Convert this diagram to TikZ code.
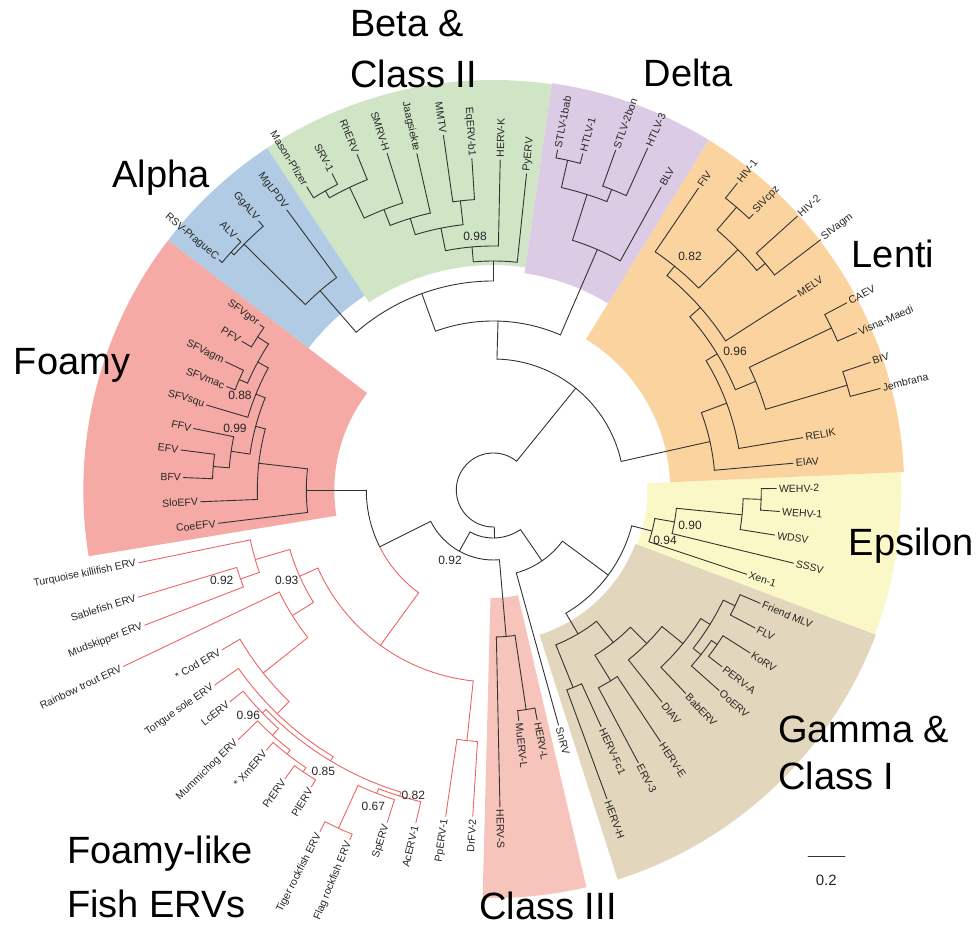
\documentclass[tikz,border=0pt]{standalone}
\usepackage{fontspec}
\setmainfont{Liberation Sans}
\usepackage{tikz}
\definecolor{colfoamy}{RGB}{245,170,166}
\definecolor{colthree}{RGB}{246,196,186}
\definecolor{colalpha}{RGB}{176,203,227}
\definecolor{colbeta}{RGB}{207,229,197}
\definecolor{coldelta}{RGB}{219,203,228}
\definecolor{collenti}{RGB}{251,211,158}
\definecolor{coleps}{RGB}{251,248,200}
\definecolor{colgamma}{RGB}{226,214,188}
\definecolor{fishred}{RGB}{238,100,100}
% annular sector: colour, from, to, inner, outer
\newcommand{\cladesector}[5]{\fill[#1] (#2:#4) arc[start angle=#2,end angle=#3,radius=#4 pt] -- (#3:#5) arc[start angle=#3,end angle=#2,radius=#5 pt] -- cycle;}
% leaves: style, prefix, list angle/parent r/tip r/text
\newcommand{\leafset}[3]{%
  \foreach \a/\rp/\rt/\txt [count=\i] in {#3}{
    \draw[#1] (\a:\rp) -- (\a:\rt);
    \pgfmathtruncatemacro\flip{and(\a>90,\a<270)}
    \ifnum\flip=1
      \node[leaf,rotate=\a-180,anchor=east] (#2\i) at (\a:\rt+1.5) {\txt};
    \else
      \node[leaf,rotate=\a,anchor=west] (#2\i) at (\a:\rt+1.5) {\txt};
    \fi
  }}

\begin{document}
\begin{tikzpicture}[x=1pt,y=1pt,
    br/.style={draw=black!80,line width=0.9pt,line cap=round},
    fishbr/.style={draw=fishred,line width=0.9pt,line cap=round},
    leaf/.style={font=\fontsize{10.5}{12}\selectfont,inner sep=1pt,text=black!85},
    boot/.style={font=\fontsize{12}{14}\selectfont,text=black!85},
    clade/.style={font=\fontsize{38}{44}\selectfont,inner sep=0pt}]
  \useasboundingbox (-493.3,-443) rectangle (483.7,490);

  % clade backgrounds
  \cladesector{colbeta}{81.8}{123.5}{225}{410}
  \cladesector{colalpha}{123.5}{142.5}{233}{410}
  \cladesector{colfoamy}{142.5}{189.3}{159}{410}
  \cladesector{colthree}{268.5}{283.2}{108}{408}
  \cladesector{colgamma}{287.7}{339.3}{152}{409}
  \cladesector{coleps}{339.3}{362.5}{154}{408}
  \cladesector{collenti}{2.5}{58.4}{177}{411}
  \cladesector{coldelta}{58.4}{81.8}{219}{411}

  % internal arcs r/from/to
  \foreach \r/\a/\b in {37/51/271.5, 131/12.6/88.4,
      222/5.1/20.4, 249/9.6/31.3, 262/22.5/41.4, 284/16.5/25.6, 375/23.4/27.9,
      369/14.7/18.7, 276/32.7/51, 288/44.5/55.8, 343/39.8/49.3, 373/46.7/51.5, 354/37.4/42,
      169/66.6/110, 262/61/72.4, 310/68.5/77.3, 338/75.1/79.3, 323/65.7/70.2,
      209/90/131, 229/84/95, 244/88.8/101.3, 267/96.5/107, 291/93.7/98, 284/102.8/111.3,
      301/107.5/115.4, 335/112.1/119.3, 343/117/121.6,
      264/126.4/135.4, 350/131.1/137.8, 354/135.5/140,
      48/241/304.5, 70/206.6/275, 147/271.2/278.5, 222/276.3/280.8, 127/180/206.6,
      187/173.5/186.9, 236/165/182.3, 246/158/171.6, 265/168.4/175.2, 281/172.7/177.7,
      256/151.5/163.5, 268/147/156.5, 281/144.7/149.4, 277/154.4/158.8,
      86/285.5/323.5, 143/300.5/345.5, 167/292/308.2, 213/290.2/294.5, 194/301.6/315,
      224/298/303.6, 217/308.5/321, 244/313.4/328.2, 255/321.6/334.4, 265/318.4/325.4,
      272/322.3/327.6, 268/332.2/337, 164/341.6/350, 184/346.3/354.3, 250/350.9/358,
      268/355.7/360.3}
    \draw[br] (\a:\r) arc[start angle=\a,end angle=\b,radius=\r pt];
  % internal stems angle/inner/outer
  \foreach \a/\ri/\ro in {51/37/131, 12.6/131/222, 20.4/222/249, 31.3/249/262,
      22.5/262/284, 25.6/284/375, 16.5/284/369, 41.4/262/276, 51/276/288,
      44.5/288/343, 49.3/343/373, 39.8/343/354,
      88.4/131/169, 66.6/169/262, 72.4/262/310, 77.3/310/338, 68.5/310/323,
      110/169/209, 90/209/229, 95/229/244, 101.3/244/267, 96.5/267/291, 107/267/284,
      111.3/284/301, 115.4/301/335, 119.3/335/343,
      131/209/264, 135.4/264/350, 137.8/350/354,
      271.5/37/48, 241/48/70, 275/70/147, 278.5/147/222, 206.6/70/127,
      180/127/187, 173.5/187/236, 165/236/246, 171.6/246/265, 175.2/265/281,
      158/246/256, 151.5/256/268, 147/268/281, 156.5/268/277,
      304.5/48/86, 323.5/86/143, 300.5/143/167, 292/167/213, 308.2/167/194,
      301.6/194/224, 315/194/217, 321/217/244, 328.2/244/255, 321.6/255/265,
      325.4/265/272, 334.4/255/268, 345.5/143/164, 350/164/184, 354.3/184/250,
      358/250/268}
    \draw[br] (\a:\ri) -- (\a:\ro);

  % fish part
  \draw[fishbr] (206.6:127) arc[start angle=206.6,end angle=234,radius=127pt];
  \foreach \r/\a/\b in {192/204/264, 212/196.3/212, 248/191.6/199.4, 268/196.8/201.2,
      237/205.5/218.5, 294/210.5/226, 311/215/239, 316/224/253, 321/218.8/228,
      330/224.4/232, 335/228.9/236, 340/234.2/238.5, 320/249/256.9, 325/245.4/252.3,
      372/243.1/247.7, 252/261.7/266.4}
    \draw[fishbr] (\a:\r) arc[start angle=\a,end angle=\b,radius=\r pt];
  \foreach \a/\ri/\ro in {234/127/192, 204/192/212, 196.3/212/248, 199.4/248/268,
      212/212/237, 218.5/237/294, 226/294/311, 239/311/316, 224/316/321, 228/321/330,
      232/330/335, 236/335/340, 253/316/320, 249/320/325, 245.4/325/372, 264/192/252}
    \draw[fishbr] (\a:\ri) -- (\a:\ro);

  % leaves
  \leafset{br}{lenti}{5.1/222/301/EIAV, 9.6/249/314/RELIK, 14.7/369/400/Jembrana,
      18.7/369/398/BIV, 23.4/375/396/Visna-Maedi, 27.9/375/400/CAEV, 32.7/276/360/MELV,
      37.4/354/412/SIVagm, 42/354/409/HIV-2, 46.7/373/379/SIVcpz, 51.5/373/392/HIV-1,
      55.8/288/365/FIV}
  \leafset{br}{delta}{61/262/346/BLV, 65.7/323/375/HTLV-3, 70.2/323/361/STLV-2bon,
      75.1/338/348/HTLV-1, 79.3/338/346/STLV-1bab}
  \leafset{br}{beta}{84/229/318/PyERV, 88.8/244/330/HERV-K, 93.7/291/332/EqERV-b1,
      98/291/358/MMTV, 102.8/284/345/Jaagsiekte, 107.5/301/353/SMRV-H,
      112.1/335/362/RhERV, 117/343/355/SRV-1, 121.6/343/356/Mason-Pfizer}
  \leafset{br}{alpha}{126.4/264/348/MgLPDV, 131.1/350/357/GgALV, 135.5/354/359/ALV,
      140/354/358/RSV-PragueC}
  \leafset{br}{foamy}{144.7/281/286/SFVgor, 149.4/281/292/PFV, 154.4/277/297/SFVagm,
      158.8/277/286/SFVmac, 163.5/256/299/SFVsqu, 168.4/265/306/FFV, 172.7/281/315/EFV,
      177.7/281/310/BFV, 182.3/236/293/SloEFV, 186.9/187/277/CoeEFV}
  \leafset{fishbr}{fish}{191.6/248/362/Turquoise killifish ERV, 196.8/268/371/Sablefish ERV,
      201.2/268/374/Mudskipper ERV, 205.5/237/410/Rainbow trout ERV,
      210.5/294/315/* Cod ERV, 215/311/340/Tongue sole ERV, 218.8/321/338/LcERV,
      224.4/330/357/Mummichog ERV, 228.9/335/345/* XmERV, 234.2/340/356/PrERV,
      238.5/340/348/PlERV, 243.1/372/383/Tiger rockfish ERV, 247.7/372/378/Flag rockfish ERV,
      252.3/325/349/SpERV, 256.9/320/342/AcERV-1, 261.7/252/330/PpERV-1, 266.4/252/327/DrFV-2}
  \leafset{br}{three}{271.2/147/317/HERV-S, 276.3/222/232/MuERV-L, 280.8/222/234/HERV-L,
      285.5/86/244/SnRV}
  \leafset{br}{gamma}{290.2/213/329/HERV-H, 294.5/213/260/HERV-Fc1, 298/224/309/ERV-3,
      303.6/224/302/HERV-E, 308.5/217/271/DIAV, 313.4/244/280/BabERV, 318.4/265/302/OoERV,
      322.3/272/289/PERV-A, 327.6/272/304/KoRV, 332.2/268/296/FLV, 337/268/290/Friend MLV}
  \leafset{br}{eps}{341.6/164/267/Xen-1, 346.3/184/309/SSSV, 350.9/250/285/WDSV,
      355.7/268/287/WEHV-1, 360.3/268/283/WEHV-2}

  % support values
  \node[boot] (b1) at (-18.3,253.3) {0.98};
  \node[boot] (b2) at (196.7,233.3) {0.82};
  \node[boot] (b3) at (241.7,138.3) {0.96};
  \node[boot] (b4) at (-253.3,95) {0.88};
  \node[boot] (b5) at (-258.3,61.7) {0.99};
  \node[boot] (b6) at (196.7,-35) {0.90};
  \node[boot] (b7) at (171.7,-50) {0.94};
  \node[boot] (b8) at (-43.3,-70) {0.92};
  \node[boot] (b9) at (-271.6,-90) {0.92};
  \node[boot] (b10) at (-206.6,-90) {0.93};
  \node[boot] (b11) at (-245,-225) {0.96};
  \node[boot] (b12) at (-170,-281.7) {0.85};
  \node[boot] (b13) at (-120,-316.7) {0.67};
  \node[boot] (b14) at (-80,-305) {0.82};

  % clade names
  \node[clade,anchor=west] (nbeta) at (-143.3,466) {Beta \&};
  \node[clade,anchor=west] (nclass2) at (-143.3,416) {Class II};
  \node[clade] (nalpha) at (-332.3,312) {Alpha};
  \node[clade] (ndelta) at (194.7,417) {Delta};
  \node[clade] (nlenti) at (399.7,236) {Lenti};
  \node[clade] (nfoamy) at (-421.3,125) {Foamy};
  \node[clade] (neps) at (417.7,-56) {Epsilon};
  \node[clade,anchor=west] (ngamma) at (284.7,-239) {Gamma \&};
  \node[clade,anchor=west] (nclass1) at (284.7,-286) {Class I};
  \node[clade,anchor=west] (nfish1) at (-426.3,-364) {Foamy-like};
  \node[clade,anchor=west] (nfish2) at (-426.3,-414) {Fish ERVs};
  \node[clade] (nclass3) at (54.7,-416) {Class III};

  % scale bar
  \coordinate (s0) at (314.7,-366);
  \coordinate (s1) at (351.7,-366);
  \draw[br] (s0) -- (s1);
  \node[boot,font=\fontsize{15}{17}\selectfont] (sl) at (333,-390) {0.2};
\end{tikzpicture}
\end{document}
